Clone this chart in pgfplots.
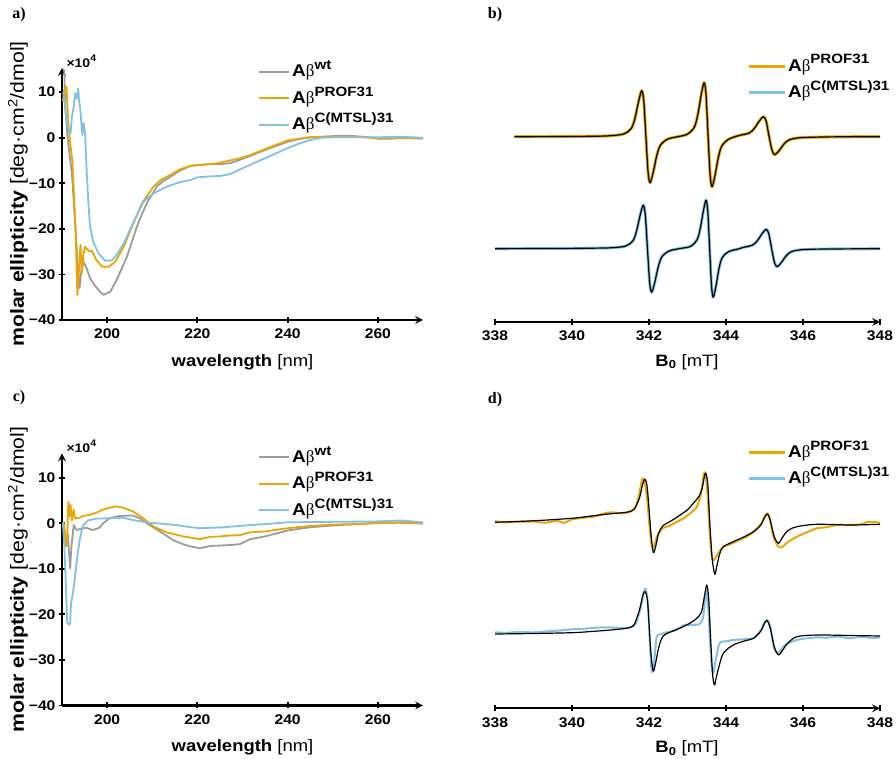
\documentclass[border=0pt]{standalone}
\usepackage{pgfplots}
\pgfplotsset{compat=1.18}
\usepackage{fontspec}
\setmainfont[FakeStretch=1.12]{Liberation Sans}
\newfontfamily\serif{Liberation Serif}
\definecolor{cdgray}{RGB}{155,155,155}
\definecolor{cdorange}{RGB}{235,165,0}
\definecolor{cdblue}{RGB}{128,192,226}
\newcommand{\fs}[1]{\fontsize{#1}{#1}\selectfont}
\newcommand{\Ab}[1]{\textbf{A}{\serif β}\raisebox{0.42em}{\fs{13.5}\bfseries #1}}

\pgfplotsset{
  base/.style={
    scale only axis, anchor=south west,
    axis line style={-, line width=2.4pt},
    tick align=outside, major tick length=6pt,
    tick style={line width=1.8pt, black},
    ticklabel style={font=\bfseries\fs{14}},
    xticklabel style={yshift=-2.5pt},
    label style={font=\fs{16.5}},
    legend cell align=left,
    legend style={draw=none, fill=none, inner sep=0pt, font=\fs{17},
      nodes={inner xsep=2pt, inner ysep=0pt, text height=13pt, text depth=3pt},
      row sep=10.5pt},
  },
  cd/.style={base,
    width=361pt, height=252pt,
    xmin=190, xmax=270, ymin=-40, ymax=15.3,
    axis x line=bottom, axis y line=left,
    xtick={200,220,240,260}, xticklabels={200,220,240,260},
    ytick={-40,-30,-20,-10,0,10}, yticklabels={−40,−30,−20,−10,0,10},
    xlabel={\textbf{wavelength} [nm]},
    ylabel={\textbf{molar ellipticity} [deg·cm\textsuperscript{2}/dmol]},
    xlabel style={at={(axis description cs:0.5,-0.167)}, anchor=center},
    ylabel style={at={(axis description cs:-0.122,0.5)}, anchor=center, font=\fs{19}},
    legend style={at={(axis description cs:0.543,1.018)}, anchor=north west},
    legend image code/.code={\draw[##1, line width=2pt] (0pt,0pt) -- (30pt,0pt);},
    every axis plot/.append style={line width=1.8pt, line join=round},
  },
  epr/.style={base,
    width=385pt, height=254pt,
    xmin=338, xmax=348, ymin=0, ymax=254,
    axis x line=bottom, axis y line=none,
    xtick={338,340,342,344,346,348}, xticklabels={338,340,342,344,346,348},
    xlabel={\textbf{B\textsubscript{0}} [mT]},
    xlabel style={at={(axis description cs:0.4987,-0.157)}, anchor=center},
    legend style={at={(axis description cs:0.654,1.04)}, anchor=north west},
    legend image code/.code={\draw[##1, line width=3pt] (0pt,0pt) -- (36pt,0pt);},
    every axis plot/.append style={line join=round},
  },
  fit/.style={black, line width=1.2pt, smooth, tension=0.5, forget plot},
}

\begin{document}
\begin{tikzpicture}
\useasboundingbox (0,0) rectangle (896pt,759pt);
\node[font=\serif\bfseries\fs{16}] at (19pt,744pt) {a)};
\node[font=\serif\bfseries\fs{16}] at (495pt,744pt) {b)};
\node[font=\serif\bfseries\fs{16}] at (19pt,361pt) {c)};
\node[font=\serif\bfseries\fs{16}] at (495pt,359pt) {d)};

% ---------------- a) CD
\begin{axis}[cd, at={(62pt,439pt)}]
\addplot[cdgray] table {
190.2 15.0
190.5 14.8
190.7 6.8
191.2 0.5
191.7 -4
192.2 -7.8
192.9 -18.8
193.6 -29.7
193.9 -33
194.3 -29
194.75 -27.2
195.4 -28.5
196.2 -30.8
197.3 -32.5
198.45 -33.8
199.2 -34.5
199.6 -34.3
200.7 -33.8
202.1 -31.2
203.2 -28.8
204.4 -26.1
205.5 -22.8
206.6 -19.5
207.7 -16.8
208.8 -14.4
210.0 -12.4
211.0 -10.7
212.5 -9.5
214.0 -8.6
216.0 -7.3
218.4 -6.2
220 -6.0
222.8 -5.8
225 -5.8
227.2 -5.6
229 -5.0
231.7 -4.0
235 -2.7
237.5 -1.8
240 -0.9
242.5 -0.3
245 0.1
248 0.2
251 0.4
254 0.4
257 0.2
260 -0.2
263 -0.2
266 0
270 -0.2
};
\addlegendentry{\Ab{wt}}
\addplot[cdorange] table {
190.2 8
190.5 10.5
191.0 11.2
191.2 6.8
191.5 2
192.0 -2.7
192.3 -5
192.6 -11.5
193.0 -20
193.2 -27
193.4 -34.5
193.7 -30
194.1 -23.5
194.4 -29.7
194.7 -26
195.1 -23.9
195.6 -24.5
196.2 -25
196.6 -24.8
197.6 -26.8
198.9 -28.3
200.4 -28.3
201.8 -27.2
203.7 -23.9
205.5 -19.5
207.7 -14.4
210.3 -10.7
212.0 -9.2
214.0 -8.2
216.0 -7.0
218.4 -6.2
220.5 -6.0
222.8 -5.8
225.0 -5.5
227.2 -5.0
229.5 -4.5
231.7 -3.8
235 -2.5
240 -0.6
245 0.1
250 0.3
255 0.2
260 -0.1
265 -0.1
270 -0.1
};
\addlegendentry{\Ab{PROF31}}
\addplot[cdblue] table {
190.2 10
190.5 9.0
190.9 5
191.3 2
191.9 1.0
192.2 4.6
192.6 6.8
192.9 9.7
193.2 8.5
193.6 10.8
193.8 8
194.0 6.8
194.5 0.6
194.8 3.2
195.1 1.0
195.5 -7.8
195.9 -15.1
196.2 -19.5
196.9 -22.8
198.1 -25.4
199.6 -27.0
201.1 -26.9
202.1 -25.7
203.7 -23.2
205.9 -18.4
208.1 -14.0
210.3 -12.2
213.3 -10.7
216.0 -9.8
218.4 -9.3
220.0 -8.7
222.8 -8.5
225.0 -8.4
227.2 -8.0
230.0 -6.7
232.5 -5.6
235.0 -4.5
237.5 -3.4
240.0 -2.3
242.5 -1.3
245.0 -0.5
247.5 0
250.0 0.1
255 0.1
260 0.1
265 0.2
270 0
};
\addlegendentry{\Ab{C(MTSL)31}}
\end{axis}
\node[anchor=west, font=\bfseries\fs{12.5}] at (63pt,698pt) {×10\raisebox{0.45em}{\fs{9.5}4}};

% ---------------- c) CD
\begin{axis}[cd, at={(62pt,53.5pt)}]
\addplot[cdgray] table {
190.3 0
190.9 -5.1
191.3 -2.5
191.5 -5.5
191.8 -9.9
192.1 -5
192.6 -0.4
193.2 -1.5
193.9 -1.3
195.4 -1.0
196.8 -1.5
198.3 -1.0
199.1 0
200.6 1.1
202.8 1.6
205.7 1.7
207.2 1.1
209.4 -0.4
211.7 -1.8
214.6 -3.7
216.8 -4.6
218.5 -5.1
220.6 -5.5
222.8 -5.0
225.0 -4.9
227.2 -4.8
229.4 -4.6
231.7 -3.5
235 -2.9
240 -1.6
245 -0.9
250 -0.5
255 -0.2
260 0.1
265 0.2
270 0
};
\addlegendentry{\Ab{wt}}
\addplot[cdorange] table {
190.3 0.3
190.9 -3.7
191.1 -5
191.4 4.7
191.7 1.5
191.9 4.0
192.2 0.6
192.6 3.0
192.9 1.0
193.2 1.1
193.9 1.2
194.6 1.6
196.1 1.8
197.6 2.3
199.1 3.0
200.6 3.4
202.0 3.7
203.5 3.4
205.7 2.6
208.0 1.1
210.2 -0.7
213.2 -2.0
216.8 -2.9
220.6 -3.5
222.8 -3.0
225 -2.9
227.2 -2.7
229.5 -2.6
231.7 -2.0
235 -1.8
240 -1.1
245 -0.6
250 -0.3
255 -0.2
260 0
265 0.1
270 -0.1
};
\addlegendentry{\Ab{PROF31}}
\addplot[cdblue] table {
190.2 0
190.55 -5.5
190.9 -14.7
191.15 -21.6
191.5 -22.3
191.8 -22
192.0 -17.6
192.4 -15.4
192.8 -12.5
193.3 -8.1
193.9 -3.7
194.6 -0.6
195.7 0.6
197.6 1.0
200.6 1.1
203.5 1.2
205.7 0.7
209.4 0.1
212 -0.1
215.4 -0.4
218 -0.8
220.6 -1.1
225.7 -0.9
231.7 -0.4
235 -0.2
240 0.2
250 0.3
260 0.4
265 0.6
270 0.2
};
\addlegendentry{\Ab{C(MTSL)31}}
\end{axis}
\node[anchor=west, font=\bfseries\fs{12.5}] at (63pt,312.5pt) {×10\raisebox{0.45em}{\fs{9.5}4}};

% ---------------- b) EPR
\begin{axis}[epr, at={(495pt,437pt)}]
\pgfplotstableread{
338.5 185.3
339.5 185.4
340.5 185.7
340.97 186.2
341.35 188.1
341.54 193.6
341.635 203.7
341.73 220.7
341.81 231.3
341.863 221.2
341.92 185.3
341.977 149.4
342.03 139.3
342.11 149.9
342.205 166.9
342.30 177.0
342.49 183.0
342.75 185.3
342.995 187.8
343.175 194.7
343.265 206.9
343.355 226.9
343.431 239.3
343.481 227.4
343.535 185.3
343.589 146.3
343.639 135.3
343.715 146.8
343.805 165.3
343.895 176.3
344.075 182.9
344.34 186.5
344.60 188.9
344.73 193.3
344.86 200.7
344.97 205.3
345.042 200.9
345.12 185.3
345.198 171.3
345.27 167.3
345.38 171.4
345.51 178.1
345.64 182.1
345.90 184.2
346.42 184.9
347.0 185.2
348.0 185.3
}\bprof
\pgfplotstableread{
338.0 73.3
339.5 73.5
340.5 73.8
341.01 74.2
341.39 75.9
341.58 81.1
341.675 90.7
341.77 106.8
341.85 116.8
341.903 107.2
341.96 73.3
342.017 39.4
342.07 29.8
342.15 39.8
342.245 55.9
342.34 65.5
342.53 71.1
342.78 73.3
343.08 75.6
343.245 82.0
343.327 92.7
343.41 110.6
343.48 121.8
343.526 111.1
343.575 73.3
343.625 35.5
343.67 24.8
343.74 36.0
343.82 53.9
343.905 64.6
344.07 70.4
344.35 73.3
344.435 74.5
344.685 76.8
344.81 81.1
344.935 88.2
345.04 92.7
345.11 88.4
345.185 73.3
345.26 59.3
345.33 55.3
345.435 59.4
345.56 66.1
345.685 70.1
345.935 72.2
346.435 72.9
348.0 73.3
}\bmtsl
\addplot[cdorange, line width=3pt, smooth, tension=0.5] table {\bprof};
\addlegendentry{\Ab{PROF31}}
\addplot[fit] table {\bprof};
\addplot[cdblue, line width=3pt, smooth, tension=0.5] table {\bmtsl};
\addlegendentry{\Ab{C(MTSL)31}}
\addplot[fit] table {\bmtsl};
\end{axis}

% ---------------- d) EPR
\begin{axis}[epr, at={(495pt,50.7pt)}]
\addplot[cdorange, line width=2pt, smooth, tension=0.4] table {
338.0 187
338.3 186
338.6 186.5
339.0 186.8
339.3 185.5
339.6 187.5
339.8 185.5
340.0 189
340.3 190.5
340.6 192
340.9 195.5
341.1 195.8
341.3 195
341.5 196.5
341.65 201
341.75 215
341.82 229
341.88 228
341.95 210
342.0 188
342.05 168
342.09 160
342.14 163
342.22 173
342.35 180
342.5 182
342.7 186
342.9 190
343.1 196
343.25 202
343.35 215
343.43 235
343.47 234
343.52 215
343.57 180
343.63 152
343.68 148
343.75 152
343.85 158
343.93 161.6
344.1 164
344.28 167
344.5 171
344.71 176
344.9 184
345.0 191
345.07 195
345.14 189
345.23 172
345.35 162
345.45 161
345.6 166
345.84 171.6
346.1 176
346.36 180
346.6 181
346.9 183.5
347.22 183.3
347.5 184
347.7 186.5
348.0 185.6
};
\addlegendentry{\Ab{PROF31}}
\addplot[fit] table {
338.0 186.0
339.0 187.5
340.0 190.0
340.5 192.3
341.0 194.5
341.4 196.0
341.6 198.5
341.75 210
341.84 225
341.90 229
341.95 222
342.0 200
342.05 175
342.10 158
342.13 156
342.18 163
342.25 175
342.35 182
342.46 185
342.6 188
342.81 193.3
343.0 198.5
343.15 205
343.3 212
343.38 220
343.44 232
343.48 235
343.53 222
343.58 185
343.64 150
343.71 134
343.76 142
343.84 155
343.93 161.6
344.1 165
344.28 168.3
344.5 172
344.71 176.6
344.9 183
345.0 191
345.08 194.3
345.15 188
345.25 172
345.36 165
345.45 170
345.6 177.5
345.84 181.6
346.36 184
347.22 183.3
348.0 184
};
\addplot[cdblue, line width=2pt, smooth, tension=0.4] table {
338.0 76
338.3 75.5
338.6 76.3
339.0 76
339.3 76.8
339.6 77.5
340.0 79
340.3 79.5
340.6 80.5
340.9 81
341.2 80.5
341.5 80.8
341.65 84
341.78 100
341.87 117
341.92 119
341.97 105
342.01 75
342.05 45
342.09 36
342.13 45
342.2 71.6
342.3 74
342.46 76
342.7 78
342.89 83
343.1 83.5
343.3 84
343.4 90
343.46 110
343.49 118
343.54 100
343.58 70
343.63 42
343.67 35
343.73 48
343.82 64
343.89 66.6
344.0 67
344.19 68.3
344.45 69
344.71 70
344.9 78
345.0 86
345.08 88.3
345.16 80
345.25 60
345.33 55
345.42 58
345.55 64
345.84 68.3
346.1 70
346.36 71
346.6 70.5
346.9 71.8
347.2 70
347.5 71.5
347.8 70.3
348.0 71
};
\addlegendentry{\Ab{C(MTSL)31}}
\addplot[fit] table {
338.0 74.3
339.0 74.8
340.0 75.6
340.5 76.8
341.0 78.3
341.4 80
341.6 83
341.75 98
341.84 113
341.90 116.6
341.96 108
342.0 85
342.05 55
342.11 37.3
342.17 45
342.26 62
342.37 72.3
342.6 77
342.89 81.6
343.1 86
343.24 90
343.36 96
343.44 112
343.50 123.3
343.55 110
343.6 70
343.65 35
343.70 23.3
343.76 33
343.89 51.6
344.0 58
344.19 63.3
344.45 67
344.71 70
344.9 77
345.0 85
345.07 87.6
345.15 80
345.25 62
345.36 53.3
345.45 57
345.6 65
345.84 71.6
346.36 73.3
347.2 72.8
348.0 72.3
};
\end{axis}
\end{tikzpicture}
\end{document}
